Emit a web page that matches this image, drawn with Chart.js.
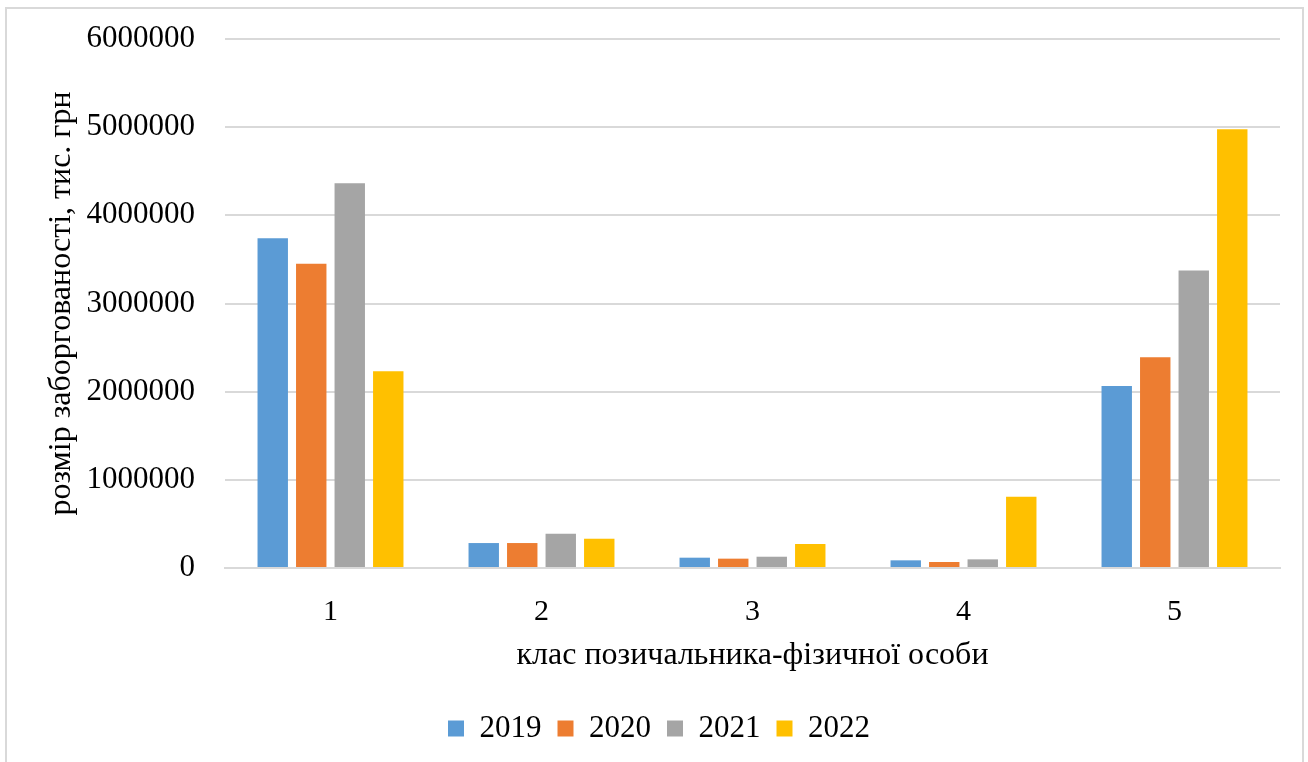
<!DOCTYPE html>
<html>
<head>
<meta charset="utf-8">
<script src="https://cdn.jsdelivr.net/npm/chart.js@4.4.1/dist/chart.umd.min.js"></script>
<style>
  html, body { margin: 0; padding: 0; background: #fff; }
  #wrap { position: relative; width: 1308px; height: 762px; }
  #frame { position: absolute; left: 5px; top: 7px; width: 1299px; height: 760px;
           border: 2px solid #D9D9D9; box-sizing: border-box; pointer-events: none; }
</style>
</head>
<body>
<div id="wrap">
  <canvas id="myChart"></canvas>
  <div id="frame"></div>
</div>
<script>
// Дані з графіка
const categories = ['1', '2', '3', '4', '5'];
const years = ['2019', '2020', '2021', '2022'];
const values2019 = [3739000, 283000, 117000, 87000, 2064000];
const values2020 = [3452000, 283000, 106000, 68000, 2390000];
const values2021 = [4364000, 389000, 128000, 98000, 3373000];
const values2022 = [2232000, 332000, 272000, 808000, 4977000];
const yTicks = [0, 1000000, 2000000, 3000000, 4000000, 5000000, 6000000];

const colors = ['#5B9BD5', '#ED7D31', '#A5A5A5', '#FFC000'];
const serif = 'Liberation Serif, Times New Roman, serif';

const ctx = document.getElementById('myChart').getContext('2d');

const myChart = new Chart(ctx, {
    type: 'bar',
    data: {
        labels: categories,
        datasets: [values2019, values2020, values2021, values2022].map((vals, i) => ({
            label: years[i],
            data: vals,
            backgroundColor: colors[i],
            borderWidth: 0,
            categoryPercentage: 0.73,
            barPercentage: 0.79
        }))
    },
    options: {
        responsive: true,
        maintainAspectRatio: false,
        animation: false,
        devicePixelRatio: 1,
        layout: {
            padding: { left: 38, right: 28, top: 39, bottom: 8 }
        },
        plugins: {
            tooltip: { enabled: false },
            legend: {
                position: 'bottom',
                labels: {
                    color: '#000',
                    font: { family: serif, size: 31 },
                    boxWidth: 16,
                    boxHeight: 16,
                    padding: 16
                }
            }
        },
        scales: {
            x: {
                afterFit: (scale) => { scale.height = 129; },
                grid: { display: false, drawTicks: false },
                border: { color: '#D9D9D9', width: 2 },
                ticks: {
                    color: '#000',
                    font: { family: serif, size: 30 },
                    padding: 26
                },
                title: {
                    display: true,
                    text: 'клас позичальника-фізичної особи',
                    color: '#000',
                    font: { family: serif, size: 32 },
                    padding: { top: 0, bottom: 22 }
                }
            },
            y: {
                min: 0,
                max: 6000000,
                afterBuildTicks: (scale) => {
                    scale.ticks = yTicks.map(v => ({ value: v }));
                },
                afterFit: (scale) => {
                    scale.width = 187;
                    scale.paddingTop = 10;
                    scale.paddingBottom = 10;
                },
                grid: { color: '#D9D9D9', lineWidth: 2, drawTicks: false },
                border: { display: false },
                ticks: {
                    color: '#000',
                    font: { family: serif, size: 31 },
                    padding: 30,
                    callback: (v) => String(v)
                },
                title: {
                    display: true,
                    text: 'розмір заборгованості, тис. грн',
                    color: '#000',
                    font: { family: serif, size: 32 },
                    padding: { top: 4, bottom: 4 }
                }
            }
        }
    }
});
</script>
</body>
</html>
